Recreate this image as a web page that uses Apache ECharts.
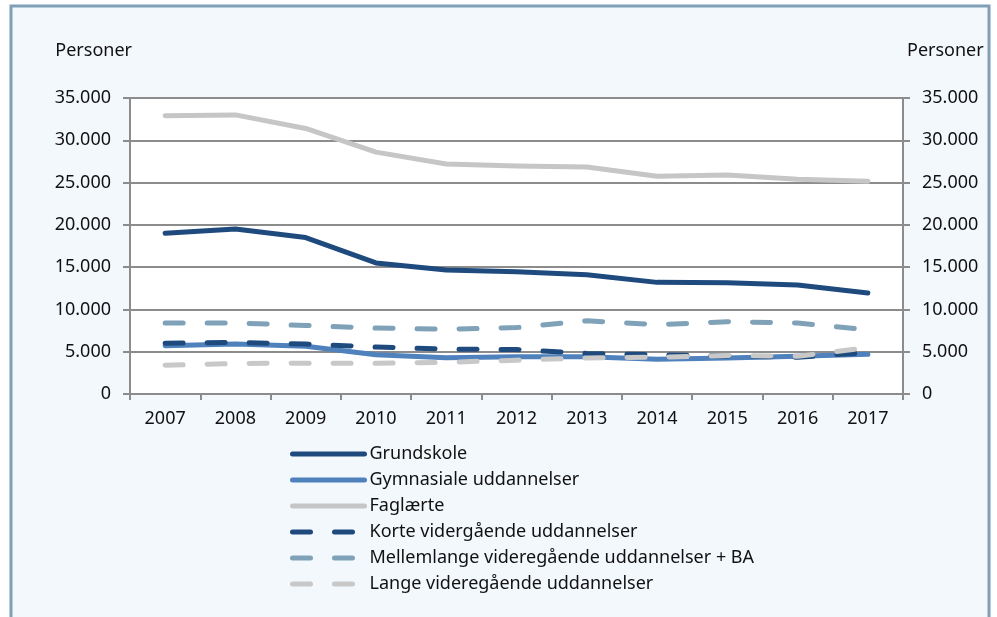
<!DOCTYPE html>
<html>
<head>
<meta charset="utf-8">
<script src="https://cdn.jsdelivr.net/npm/echarts@6/dist/echarts.min.js"></script>
<style>
  html, body { margin: 0; padding: 0; background: #fff; }
  #chart { width: 997px; height: 617px; }
</style>
</head>
<body>
<div id="chart"></div>
<script>
const years = ['2007', '2008', '2009', '2010', '2011', '2012', '2013', '2014', '2015', '2016', '2017']
const yTicks = [0, 5000, 10000, 15000, 20000, 25000, 30000, 35000]

const grundskole = [19000, 19500, 18500, 15500, 14650, 14450, 14100, 13200, 13150, 12900, 11950]
const gymnasiale = [5700, 5900, 5650, 4650, 4300, 4400, 4400, 4100, 4250, 4450, 4700]
const faglaerte = [32900, 33000, 31400, 28600, 27200, 26950, 26850, 25750, 25900, 25400, 25150]
const korte = [6000, 6100, 5900, 5550, 5300, 5250, 4800, 4650, 4500, 4350, 4900]
const mellemlange = [8400, 8400, 8100, 7800, 7650, 7850, 8650, 8200, 8550, 8400, 7600]
const lange = [3400, 3600, 3650, 3650, 3750, 4000, 4250, 4350, 4550, 4450, 5500]

const font = '"Noto Sans", sans-serif'
const axisGrey = '#8c8c8c'

const fmt = v => (v === 0 ? '0' : v.toLocaleString('de-DE'))

function lineSeries(name, data, color, dashed) {
  return {
    name,
    type: 'line',
    data,
    yAxisIndex: 0,
    symbol: 'none',
    smooth: false,
    lineStyle: {
      color,
      width: 5,
      type: dashed ? [18, 24] : 'solid',
      cap: 'round',
      join: 'round',
    },
    itemStyle: { color },
  }
}

function yAxis(position) {
  return {
    type: 'value',
    position,
    min: yTicks[0],
    max: yTicks[yTicks.length - 1],
    interval: 5000,
    name: 'Personer',
    nameLocation: 'end',
    nameGap: 38,
    nameTextStyle: {
      fontFamily: font,
      fontSize: 18,
      color: '#111',
      align: position === 'left' ? 'right' : 'left',
      padding: position === 'left' ? [0, -2, 0, 0] : [0, 0, 0, 4],
    },
    axisLine: { show: true, lineStyle: { color: axisGrey, width: 2 } },
    axisTick: { show: true, length: 7, lineStyle: { color: axisGrey, width: 2 } },
    splitLine: { show: position === 'left', lineStyle: { color: axisGrey, width: 2 } },
    axisLabel: {
      margin: 19,
      fontFamily: font,
      fontSize: 18,
      color: '#111',
      formatter: fmt,
    },
  }
}

const chart = echarts.init(document.getElementById('chart'))

chart.setOption({
  animation: false,
  backgroundColor: '#fff',
  graphic: [
    {
      type: 'rect',
      z: -10,
      shape: { x: 11, y: 6, width: 978, height: 640 },
      style: { fill: '#f3f8fd', stroke: '#7fa0b7', lineWidth: 3 },
    },
  ],
  grid: {
    left: 130,
    right: 94,
    top: 98,
    bottom: 223,
    show: true,
    backgroundColor: '#fff',
    borderWidth: 0,
  },
  legend: {
    orient: 'vertical',
    left: 285,
    top: 438,
    itemWidth: 72,
    itemHeight: 14,
    itemGap: 4,
    itemStyle: { opacity: 0 },
    textStyle: { fontFamily: font, fontSize: 18, color: '#111', lineHeight: 22 },
    lineStyle: { width: 5, cap: 'round' },
  },
  xAxis: {
    type: 'category',
    data: years,
    boundaryGap: true,
    axisLine: { lineStyle: { color: axisGrey, width: 2 } },
    axisTick: { show: true, length: 6, lineStyle: { color: axisGrey, width: 2 } },
    axisLabel: { margin: 16, fontFamily: font, fontSize: 18, color: '#111' },
  },
  yAxis: [yAxis('left'), yAxis('right')],
  series: [
    lineSeries('Grundskole', grundskole, '#1f4a7e', false),
    lineSeries('Gymnasiale uddannelser', gymnasiale, '#4f81bd', false),
    lineSeries('Faglærte', faglaerte, '#c6c6c6', false),
    lineSeries('Korte vidergående uddannelser', korte, '#1f4a7e', true),
    lineSeries('Mellemlange videregående uddannelser + BA', mellemlange, '#7fa2b9', true),
    lineSeries('Lange videregående uddannelser', lange, '#c8c8c8', true),
  ],
})
</script>
</body>
</html>
